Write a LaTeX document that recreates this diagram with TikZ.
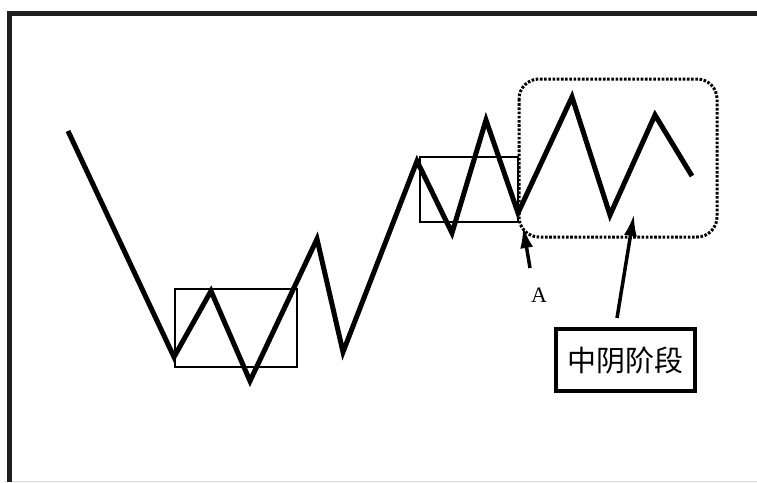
\documentclass[tikz,border=0pt]{standalone}
\usepackage{fontspec}
\newfontfamily\cjk{Noto Sans CJK SC}
\newfontfamily\aserif{Liberation Serif}
\usetikzlibrary{arrows.meta}
\begin{document}
\begin{tikzpicture}[x=1pt,y=-1pt,
  frameline/.style={line width=5pt,draw=black!88},
  wave/.style={line width=5pt,line join=miter,line cap=butt},
  thinbox/.style={line width=1.2pt},
  dotbox/.style={line width=3pt,dash pattern=on 2.6pt off 1.6pt,rounded corners=20pt},
  pointer/.style={line width=3.5pt,-{Latex[length=22pt,width=13pt]}},
  labelbox/.style={draw,line width=4pt,minimum width=139pt,minimum height=62pt,inner sep=0pt,font=\cjk\fontsize{29}{29}\selectfont}]
\useasboundingbox (0,0) rectangle (757,482);
\fill[white] (0,0) rectangle (757,482);
% frame
\draw[frameline] (757,13.5) -- (9.5,13.5) -- (9.5,482);
\draw[black!15,line width=1pt] (12,481) -- (757,481);
% zigzag
\coordinate (p1) at (68,131);
\coordinate (p2) at (174,357);
\coordinate (p3) at (211,291);
\coordinate (p4) at (250,381);
\coordinate (p5) at (317,239);
\coordinate (p6) at (343,352);
\coordinate (p7) at (417,161);
\coordinate (p8) at (452,233);
\coordinate (p9) at (486,120);
\coordinate (p10) at (518,213);
\coordinate (p11) at (572,97);
\coordinate (p12) at (610,215);
\coordinate (p13) at (655,115);
\coordinate (p14) at (692,176);
% thin boxes
\draw[thinbox] (175,289) rectangle (297,367);
\draw[thinbox] (420,157) rectangle (518,222);
\draw[wave] (p1) -- (p2) -- (p3) -- (p4) -- (p5) -- (p6) -- (p7) -- (p8) -- (p9) -- (p10) -- (p11) -- (p12) -- (p13) -- (p14);
% dotted box
\draw[dotbox] (519,79) rectangle (717,237);
% label box
\node[labelbox] (lbl) at (625.5,360) {中阴阶段};
% A label
\node[font=\aserif\fontsize{22}{22}\selectfont,inner sep=0pt] (alab) at (539,295) {A};
\coordinate (atail) at (530,268);
\coordinate (atip) at (523,226);
\draw[pointer] (atail) -- (atip);
\coordinate (btail) at (617,318);
\coordinate (btip) at (634,214);
\draw[pointer] (btail) -- (btip);
\end{tikzpicture}
\end{document}
